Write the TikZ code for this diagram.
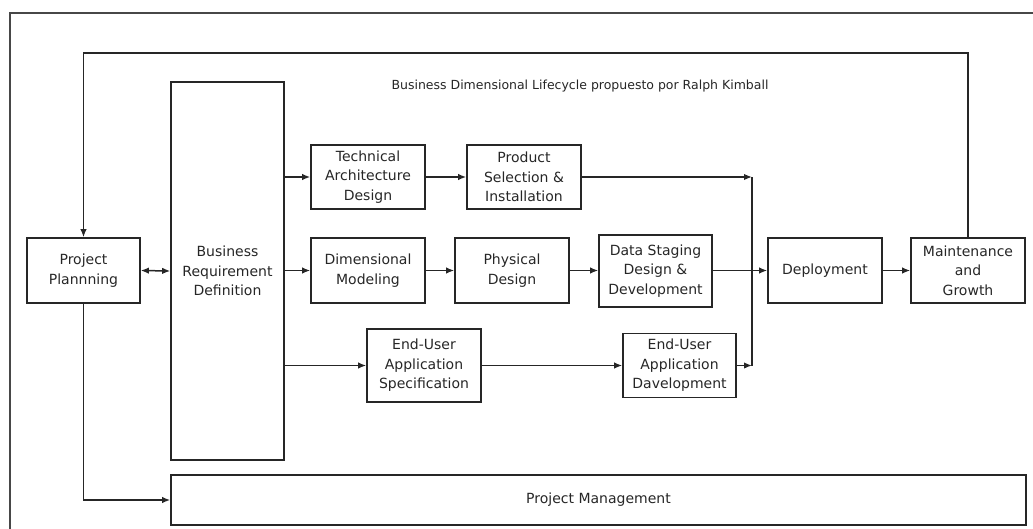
\documentclass[tikz,border=0pt]{standalone}
\usepackage{fontspec}
\setmainfont{DejaVu Sans}
\usetikzlibrary{arrows.meta}
\definecolor{ink}{HTML}{262626}
\tikzset{
  box/.style={draw=ink, line width=1.6pt, align=center, inner sep=2pt,
    text=ink, font=\fontsize{14}{19.5}\selectfont},
  tip/.tip={Latex[length=8pt,width=6.5pt]},
  flow/.style={draw=ink, line width=1.5pt, -tip},
  line/.style={draw=ink, line width=1.5pt},
}
\begin{document}
\begin{tikzpicture}[x=1pt,y=-1pt]
\useasboundingbox (0,0) rectangle (1033,528);
% page frame (only left and top edges fall inside the picture)
\draw[ink!85, line width=2pt] (10,540) -- (10,13) -- (1045,13);

\node[font=\fontsize{12.5}{15}\selectfont, text=ink] (title) at (580,86)
  {Business Dimensional Lifecycle propuesto por Ralph Kimball};

% process boxes
\node[box, minimum width=113pt, minimum height=65pt] (pp)  at (83.5,270.5) {Project\\Plannning};
\node[box, minimum width=113pt, minimum height=378pt] (brd) at (227.5,271) {Business\\Requirement\\Definition};
\node[box, minimum width=114pt, minimum height=64pt] (tad) at (368,177) {Technical\\Architecture\\Design};
\node[box, minimum width=114pt, minimum height=64pt] (psi) at (524,177) {Product\\Selection \&\\Installation};
\node[box, minimum width=114pt, minimum height=65pt] (dm)  at (368,270.5) {Dimensional\\Modeling};
\node[box, minimum width=114pt, minimum height=65pt] (pd)  at (512,270.5) {Physical\\Design};
\node[box, minimum width=113pt, minimum height=72pt] (ds)  at (655.5,271) {Data Staging\\Design \&\\Development};
\node[box, minimum width=114pt, minimum height=65pt] (dep) at (825,270.5) {Deployment};
\node[box, minimum width=114pt, minimum height=65pt] (mg)  at (968,270.5) {Maintenance\\and\\Growth};
\node[box, minimum width=114pt, minimum height=73pt] (eus) at (424,365.5) {End-User\\Application\\Specification};
\node[box, minimum width=113pt, minimum height=64pt] (eud) at (679.5,365.5) {End-User\\Application\\Davelopment};
\node[box, minimum width=855pt, minimum height=50pt] (pm)  at (598.5,500) {Project Management};

% routing points
\coordinate (fbR) at (968,53);
\coordinate (fbL) at (83.5,53);
\coordinate (mtop) at (752,177);
\coordinate (mbot) at (752,365.5);

% feedback loop from maintenance back to planning
\draw[flow] (mg.north) -- (fbR) -- (fbL) -- (pp.north);

% planning to requirements and to management
\draw[flow, tip-tip] (pp.east) -- (brd.west);
\draw[flow] (pp.south) |- (pm.west);

% requirements fan out to the three tracks
\draw[flow] (brd.east |- tad.west) -- (tad.west);
\draw[flow] (brd.east |- dm.west) -- (dm.west);
\draw[flow] (brd.east |- eus.west) -- (eus.west);

% technology track
\draw[flow] (tad) -- (psi);
\draw[flow] (psi.east) -- (mtop);
% data track
\draw[flow] (dm) -- (pd);
\draw[flow] (pd.east) -- (pd.east -| ds.west);
\draw[flow] (ds.east |- dep.west) -- (dep.west);
% application track
\draw[flow] (eus.east) -- (eud.west);
\draw[flow] (eud.east) -- (mbot);

% merge bar into deployment
\draw[line] (mtop) -- (mbot);

\draw[flow] (dep) -- (mg);
\end{tikzpicture}
\end{document}
